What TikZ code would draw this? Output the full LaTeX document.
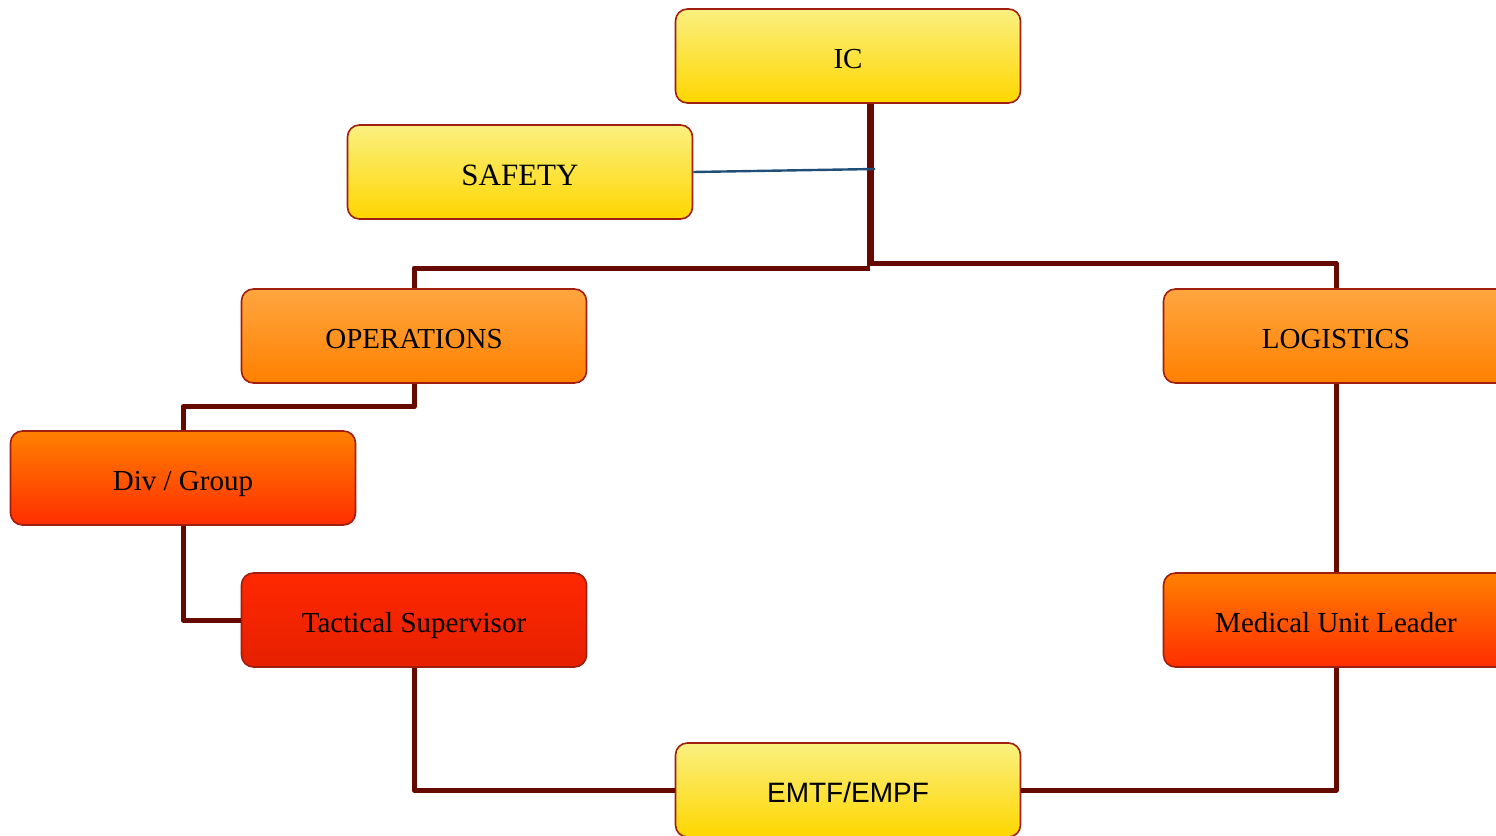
\documentclass[tikz,border=0pt]{standalone}
\usepackage{fontspec}
\setmainfont{Liberation Serif}
\newfontfamily\sansf{Liberation Sans}
\definecolor{lnk}{HTML}{660A00}
\definecolor{bord}{HTML}{A01E10}
\definecolor{blu}{HTML}{1F4E79}
\begin{document}
\begin{tikzpicture}[x=1pt,y=-1pt, line join=round, font=\fontsize{29}{34}\selectfont,
	box/.style={draw=bord, line width=1.6pt, rounded corners=12pt, minimum width=345pt, minimum height=94pt, inner sep=0pt, text height=24pt, text depth=0pt},
	yel/.style={box, top color={rgb,255:red,250;green,240;blue,128}, bottom color={rgb,255:red,255;green,214;blue,0}},
	org/.style={box, top color={rgb,255:red,255;green,166;blue,64}, bottom color={rgb,255:red,255;green,128;blue,0}},
	red/.style={box, top color={rgb,255:red,255;green,128;blue,0}, bottom color={rgb,255:red,255;green,46;blue,0}},
	dred/.style={box, top color={rgb,255:red,255;green,40;blue,0}, bottom color={rgb,255:red,230;green,32;blue,0}},
	link/.style={draw=lnk, line width=5pt}]
	\useasboundingbox (0,0) rectangle (1496,835);
	% boxes
	\node[yel] (ic) at (848,56) {IC};
	\node[yel, font=\fontsize{31}{36}\selectfont, text height=26pt] (safety) at (520,172) {SAFETY};
	\node[org] (ops) at (414,336) {OPERATIONS};
	\node[org] (logs) at (1336,336) {LOGISTICS};
	\node[red] (divgrp) at (183,478) {Div / Group};
	\node[dred] (tacsup) at (414,620) {Tactical Supervisor};
	\node[red] (medul) at (1336,620) {Medical Unit Leader};
	\node[yel, font=\sansf\fontsize{28}{33}\selectfont] (emtf) at (848,790) {EMTF/EMPF};
	% links
	\coordinate (jn) at (870,266);
	\draw[link, line width=7pt] (ic.south -| jn) -- (jn);
	\draw[link] (jn |- 0,268) -| (ops.north);
	\draw[link] (jn |- 0,263) -| (logs.north);
	\draw[blu, line width=2.4pt] (safety.east) -- (875,169);
	\draw[link] (ops.south) -- ++(0,23) -| (divgrp.north);
	\draw[link] (divgrp.south) |- (tacsup.west);
	\draw[link] (logs.south) -- (medul.north);
	\draw[link] (tacsup.south) |- (emtf.west);
	\draw[link] (medul.south) |- (emtf.east);
\end{tikzpicture}
\end{document}
